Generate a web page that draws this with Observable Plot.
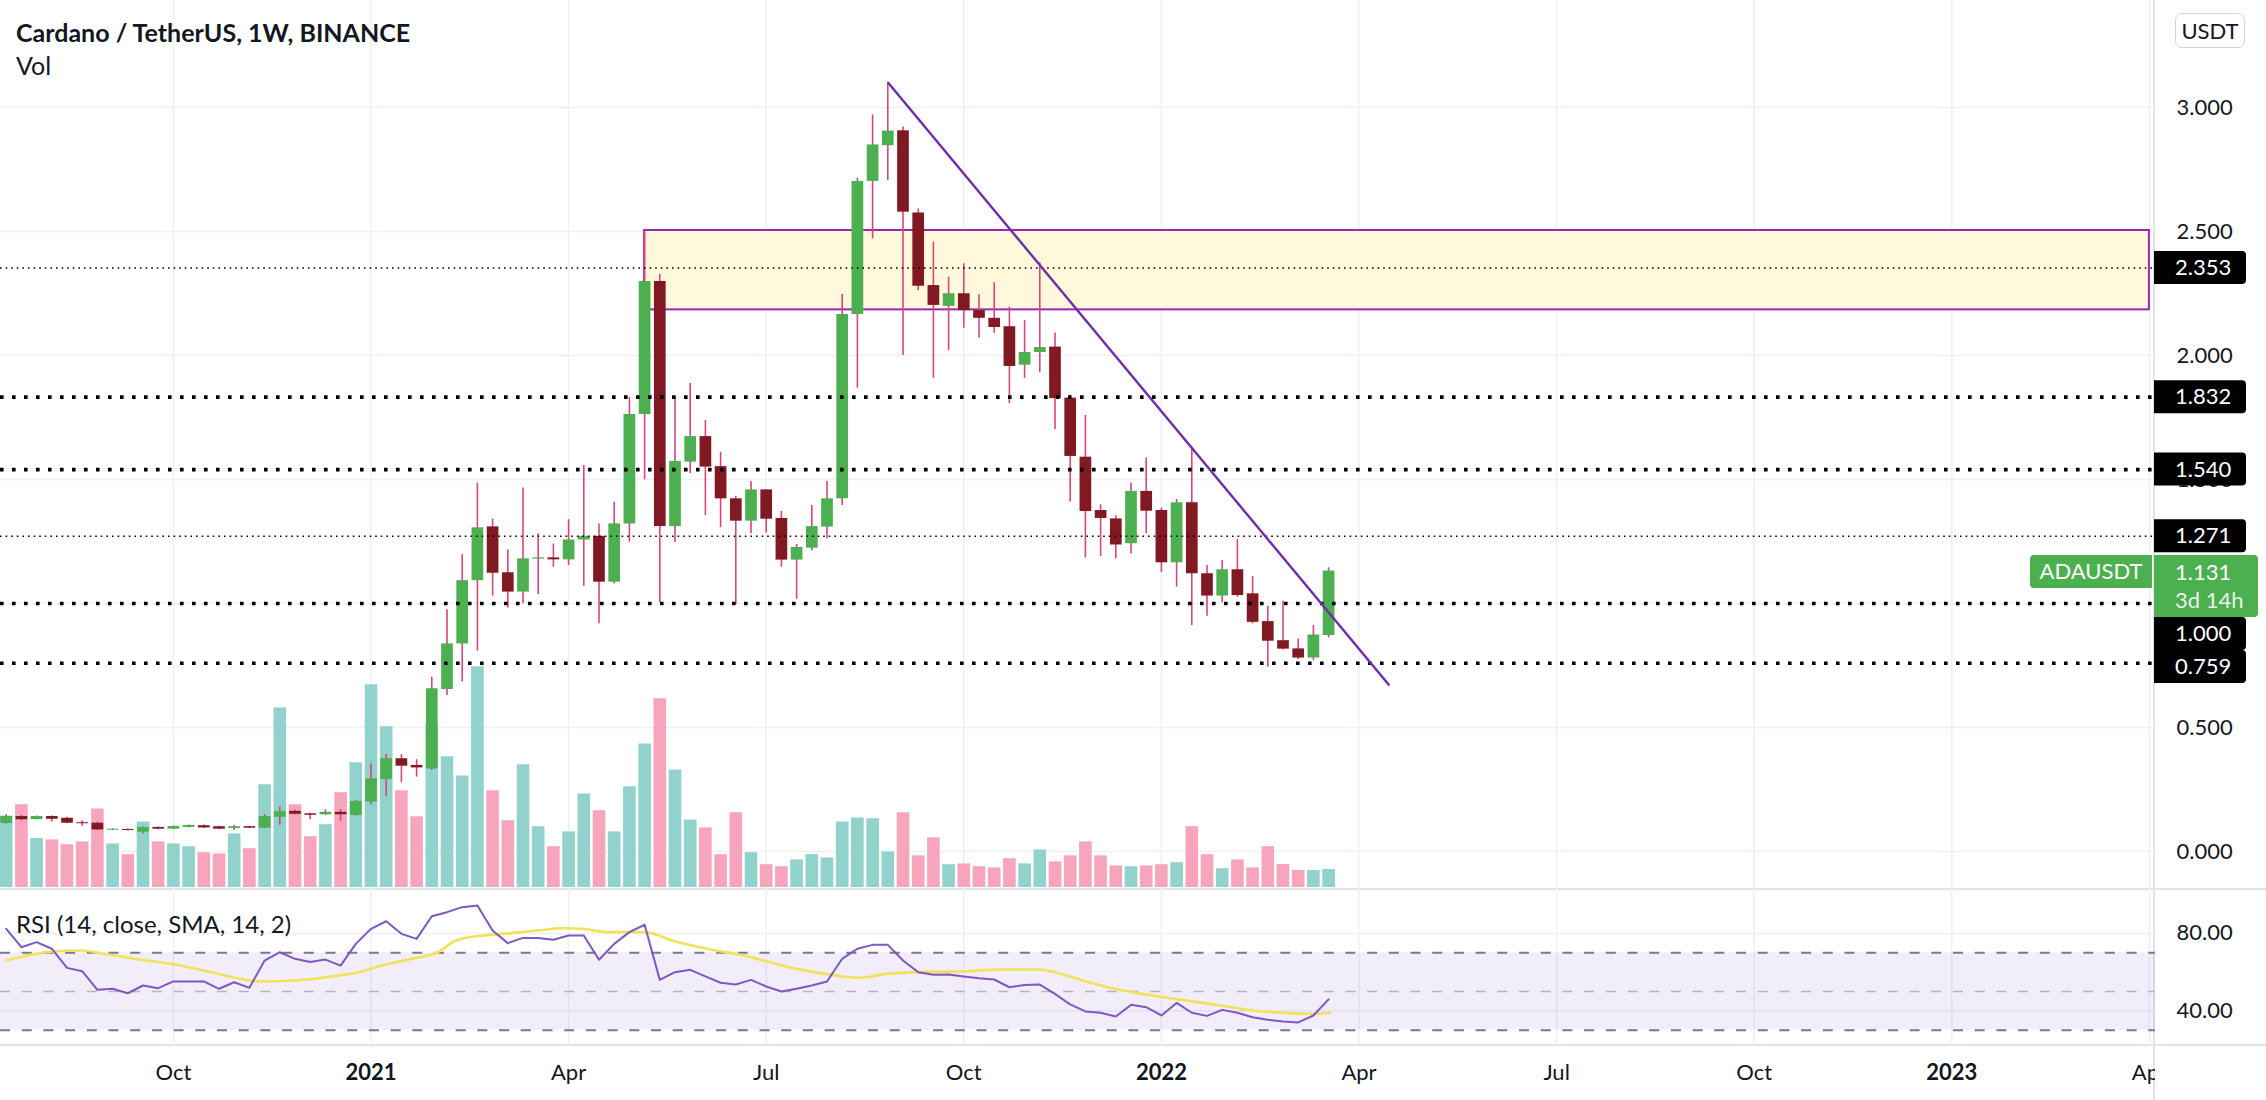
<!DOCTYPE html>
<html><head><meta charset="utf-8">
<script src="https://cdn.jsdelivr.net/npm/d3@7"></script>
<script src="https://cdn.jsdelivr.net/npm/@observablehq/plot@0.6"></script>
<style>
html,body{margin:0;padding:0;background:#fff;}
#chart{position:relative;width:2266px;height:1100px;overflow:hidden;font-family:Lato,sans-serif;color:#131722;background:#fff;}
.layer{position:absolute;left:0;width:2266px;}
.layer svg{display:block;max-width:none;}
.sep{position:absolute;background:#e0e3eb;}
.txt{position:absolute;white-space:nowrap;line-height:1;}
</style></head>
<body><div id="chart"></div>
<script>
// ---------- DATA ----------
const startWeek = "2020-07-20"; // first weekly bar (Binance weeks open on Monday)
const opens = [0.113,0.141,0.129,0.141,0.134,0.116,0.114,0.086,0.089,0.078,
0.097,0.090,0.097,0.104,0.100,0.093,0.100,0.094,0.138,0.162,
0.152,0.148,0.158,0.145,0.199,0.290,0.374,0.347,0.333,0.653,
0.837,1.092,1.309,1.124,1.046,1.179,1.184,1.176,1.256,1.271,
1.086,1.321,1.762,2.298,1.310,1.570,1.673,1.552,1.422,1.332,
1.458,1.343,1.175,1.223,1.308,1.422,2.165,2.702,2.846,2.906,
2.575,2.282,2.198,2.249,2.181,2.150,2.116,1.961,2.012,2.034,
1.828,1.590,1.375,1.341,1.241,1.452,1.375,1.164,1.406,1.120,
1.030,1.136,1.039,0.927,0.850,0.817,0.780,0.871];
const highs = [0.148,0.145,0.143,0.143,0.138,0.124,0.118,0.092,0.091,0.099,
0.099,0.103,0.107,0.107,0.102,0.106,0.102,0.149,0.179,0.166,
0.154,0.168,0.169,0.206,0.353,0.391,0.391,0.370,0.703,0.975,
1.197,1.485,1.341,1.216,1.466,1.281,1.240,1.338,1.556,1.321,
1.408,1.831,2.500,2.327,1.832,1.887,1.738,1.610,1.432,1.492,
1.460,1.371,1.238,1.395,1.492,2.246,2.715,2.970,3.102,2.921,
2.591,2.457,2.316,2.370,2.245,2.293,2.195,2.141,2.373,2.091,
1.840,1.758,1.398,1.354,1.486,1.587,1.385,1.419,1.630,1.153,
1.173,1.258,1.109,0.989,1.009,0.857,0.911,1.144];
const lows = [0.110,0.124,0.127,0.119,0.112,0.102,0.084,0.084,0.083,0.071,
0.088,0.088,0.095,0.093,0.088,0.085,0.092,0.092,0.106,0.148,
0.128,0.146,0.122,0.143,0.188,0.221,0.277,0.300,0.327,0.629,
0.683,0.808,1.030,0.982,0.999,1.036,1.146,1.153,1.070,0.918,
1.080,1.247,1.499,1.004,1.246,1.524,1.355,1.306,0.996,1.281,
1.284,1.146,1.017,1.213,1.260,1.395,1.868,2.470,2.706,2.000,
2.262,1.908,2.020,2.110,2.070,2.090,1.805,1.908,1.930,1.702,
1.409,1.183,1.190,1.180,1.200,1.281,1.124,1.066,0.911,0.949,
1.003,1.025,0.918,0.743,0.813,0.774,0.770,0.861];
const closes = [0.141,0.128,0.141,0.130,0.114,0.112,0.087,0.090,0.085,0.097,
0.090,0.101,0.105,0.095,0.090,0.100,0.094,0.141,0.161,0.150,
0.146,0.158,0.148,0.202,0.293,0.374,0.344,0.337,0.656,0.837,
1.092,1.305,1.122,1.046,1.180,1.184,1.176,1.256,1.271,1.086,
1.321,1.762,2.298,1.310,1.573,1.673,1.550,1.422,1.332,1.458,
1.340,1.175,1.226,1.310,1.422,2.165,2.702,2.849,2.905,2.578,
2.279,2.202,2.249,2.181,2.150,2.113,1.956,2.012,2.032,1.826,
1.593,1.371,1.343,1.236,1.452,1.372,1.164,1.406,1.120,1.030,
1.136,1.032,0.924,0.848,0.816,0.780,0.873,1.131];
const volumes = [1790,2070,1225,1190,1070,1140,1960,1090,820,1640,
1140,1090,1020,870,840,1340,970,2570,4490,2070,
1270,1570,2370,3120,5070,4020,2420,1770,4085,3270,
2790,5520,2420,1670,3070,1520,1020,1390,2340,1920,
1390,2520,3590,4720,2940,1690,1490,820,1870,870,
570,520,690,820,740,1640,1740,1720,890,1870,
790,1240,570,590,520,490,720,590,940,640,
790,1140,790,540,520,540,570,620,1520,820,
470,690,490,1020,575,425,425,450];
const rsiValues = [82.4,72.9,75.5,72.1,62.2,60.5,50.9,51.4,49.1,53.1,
51.7,55.2,55.2,55.2,51.4,54.8,51.9,66.0,70.3,66.9,
65.2,66.5,63.4,74.6,82.4,86.3,79.8,77.2,88.9,91.0,
93.6,94.4,81.5,75.0,77.7,77.6,76.7,78.9,78.9,66.4,
74.6,80.7,84.5,56.0,60.0,61.2,57.8,54.5,53.6,56.0,
52.6,50.0,51.4,53.1,55.2,66.9,72.1,74.1,74.1,66.0,
60.0,58.6,58.8,57.8,56.9,56.2,52.2,53.4,53.6,48.8,
43.3,39.7,39.0,37.1,43.1,41.9,37.6,44.1,39.0,37.4,
40.5,39.0,36.7,35.4,34.5,34.0,37.6,45.9];
// RSI-based SMA, read at bar positions (bar index, value)
const smaBarIndex = [0,1.4,3.2,4.9,6.7,8.4,10.8,13.2,14.9,16.7,19.0,21.4,23.2,24.9,26.7,28.4,29.6,31.4,33.2,34.9,36.7,37.9,39.6,42.0,43.8,46.1,48.5,50.2,52.0,54.3,56.1,57.9,60.2,63.2,65.5,67.9,69.0,70.8,72.6,74.3,76.1,78.4,80.2,82.0,84.3,86.1,87.1];
const smaValues = [66.0,68.6,70.8,71.2,69.1,66.9,64.3,60.5,57.4,55.2,55.7,57.8,60.0,63.8,66.9,70.3,76.4,78.9,80.1,81.5,82.7,82.4,80.7,80.7,76.4,72.1,68.6,65.2,61.7,58.6,57.1,59.1,60.0,60.5,61.4,61.4,60.0,55.7,51.9,49.3,47.1,44.5,42.4,40.2,38.8,38.5,39.0];

const xTickDates = ["2020-10-05","2021-01-04","2021-04-05","2021-07-05","2021-10-04","2022-01-03","2022-04-04","2022-07-04","2022-10-03","2023-01-02","2023-04-03"];
const xTickLabels = ["Oct","2021","Apr","Jul","Oct","2022","Apr","Jul","Oct","2023","Apr"];
const xTickIsYear = [false,true,false,false,false,true,false,false,false,true,false];
const priceTicks = [0,0.5,1,1.5,2,2.5,3];
const rsiTicks = [40,80];
const rsiBands = [30,50,70];
const levelsThick = [1.832,1.540,1.000,0.759];
const levelsThin = [2.353,1.271];
const levelLabels = [2.353,1.832,1.540,1.271,1.000,0.759];
const zoneStart = "2021-05-10", zoneEnd = "2023-04-03", zoneLow = 2.184, zoneHigh = 2.504;
const trendStart = "2021-08-30", trendStartPrice = 3.102, trendEnd = "2022-04-18", trendEndPrice = 0.669;
const symbol = "ADAUSDT", lastPrice = 1.131, countdown = "3d 14h";
const titleText = "Cardano / TetherUS, 1W, BINANCE";
const rsiTitle = "RSI (14, close, SMA, 14, 2)";

// ---------- SETUP ----------
const parse = d3.utcParse("%Y-%m-%d");
const t0 = parse(startWeek);
const WEEK = 7 * 864e5;
const bars = opens.map((o, i) => ({
  date: new Date(t0.getTime() + i * WEEK),
  open: o, high: highs[i], low: lows[i], close: closes[i],
  volume: volumes[i], rsi: rsiValues[i], up: closes[i] >= o
}));
const sma = smaBarIndex.map((b, i) => ({date: new Date(t0.getTime() + b * WEEK), value: smaValues[i]}));
const ticks = xTickDates.map((d, i) => ({date: parse(d), label: xTickLabels[i], year: xTickIsYear[i]}));

const W = 2266, AXW = 111;
const chart = document.getElementById("chart");
const X = () => ({type: "utc", domain: [parse(xTickDates[0]), parse(xTickDates[xTickDates.length - 1])], range: [172.9, 2148.9], axis: null});
const PY = () => ({domain: [0, 3], range: [851, 107], axis: null});
const base = {width: W, marginLeft: 0, marginTop: 0, marginBottom: 0, marginRight: AXW,
  style: {background: "transparent", fontFamily: "Lato, sans-serif", fontSize: "22px", color: "#131722", maxWidth: "none"}};
const GRID = "#eef0f5";
const TXT = "#131722";

function addLayer(top, el, z) {
  const d = document.createElement("div");
  d.className = "layer"; d.style.top = top + "px"; d.style.zIndex = z;
  d.appendChild(el); chart.appendChild(d);
}
function sep(l, t, w, h) {
  const d = document.createElement("div");
  d.className = "sep"; Object.assign(d.style, {left: l + "px", top: t + "px", width: w + "px", height: h + "px", zIndex: 0});
  chart.appendChild(d);
}
function txt(s, l, t, size, weight, extra) {
  const d = document.createElement("div");
  d.className = "txt"; d.textContent = s;
  Object.assign(d.style, {left: l + "px", top: t + "px", fontSize: size + "px", fontWeight: weight, zIndex: 10}, extra || {});
  chart.appendChild(d);
}
function roundPath(x, y, w, h, r, left, right) {
  const rl = left ? r : 0, rr = right ? r : 0;
  return `M${x + rl},${y}H${x + w - rr}` + (rr ? `A${rr},${rr} 0 0 1 ${x + w},${y + rr}` : "") +
    `V${y + h - rr}` + (rr ? `A${rr},${rr} 0 0 1 ${x + w - rr},${y + h}` : "") +
    `H${x + rl}` + (rl ? `A${rl},${rl} 0 0 1 ${x},${y + h - rl}` : "") +
    `V${y + rl}` + (rl ? `A${rl},${rl} 0 0 1 ${x + rl},${y}` : "") + "Z";
}

// separators
sep(0, 888, W, 2);
sep(0, 1044, W, 2);
sep(2153, 0, 2, 1100);

// ---------- GRID LAYER (price pane) ----------
addLayer(0, Plot.plot({...base, height: 889, x: X(), y: PY(), marks: [
  Plot.ruleX(ticks, {x: "date", stroke: GRID, strokeWidth: 1.5}),
  Plot.ruleY(priceTicks, {stroke: GRID, strokeWidth: 1.5})
]}), 1);

// ---------- VOLUME LAYER ----------
addLayer(0, Plot.plot({...base, height: 889, x: X(), y: {domain: [0, 22000], range: [887, 7], axis: null}, marks: [
  Plot.ruleX(bars, {x: "date", y1: 0, y2: "volume", stroke: d => d.up ? "#92d2cc" : "#f6a5bd", strokeWidth: 12.6})
]}), 2);

// ---------- PRICE LAYER ----------
const pricePlot = Plot.plot({...base, height: 889, x: X(), y: PY(), marks: [
  Plot.rect([{}], {x1: () => parse(zoneStart), x2: () => parse(zoneEnd), y1: () => zoneLow, y2: () => zoneHigh,
    fill: "#fff8da", stroke: "#9c27b0", strokeWidth: 2}),
  Plot.ruleX(bars, {x: "date", y1: "low", y2: "high", stroke: "#d9457c", strokeWidth: 1.6}),
  Plot.ruleX(bars, {x: "date", y1: "open", y2: "close", stroke: d => d.up ? "#4caf50" : "#801922", strokeWidth: 11.7}),
  Plot.ruleY(levelsThin, {stroke: "#000", strokeWidth: 1.6, strokeDasharray: "1.6 4"}),
  Plot.ruleY(levelsThick, {stroke: "#000", strokeWidth: 3.6, strokeDasharray: "3.6 8.4"}),
  Plot.link([{}], {x1: () => parse(trendStart), y1: () => trendStartPrice, x2: () => parse(trendEnd), y2: () => trendEndPrice,
    stroke: "#6f2da8", strokeWidth: 2.4}),
  Plot.text(priceTicks, {y: d => d, text: d => d.toFixed(3), frameAnchor: "right", dx: 21, textAnchor: "start", fontSize: 22, fill: TXT})
]});
addLayer(0, pricePlot, 3);

// price labels on the axis (TradingView-style boxes), pushed down when they collide
(function () {
  const ys = pricePlot.scale("y");
  const yOf = ys.apply ? v => ys.apply(v) : d3.scaleLinear(ys.domain, ys.range);
  const g = d3.select(pricePlot).append("g")
    .attr("font-family", "Lato, sans-serif").attr("font-size", 22).attr("text-anchor", "start");
  const BH = 33, AX = 2154;
  const lastY = yOf(lastPrice);
  const greenTop = lastY - 15.5, greenH = 62;
  const boxes = levelLabels.map(v => ({v, cy: yOf(v)})).sort((a, b) => a.cy - b.cy);
  let prevBottom = -Infinity;
  const occupied = [[greenTop, greenTop + greenH]];
  boxes.forEach(b => {
    let top = Math.max(b.cy - BH / 2, prevBottom);
    occupied.forEach(([t, bt]) => { if (top < bt && top + BH > t) top = bt; });
    b.cy = top + BH / 2; prevBottom = top + BH;
    g.append("path").attr("d", roundPath(AX, top, 92, BH, 4, false, true)).attr("fill", "#000");
    g.append("text").attr("x", AX + 21).attr("y", b.cy).attr("dy", "0.35em").attr("fill", "#fff").text(b.v.toFixed(3));
  });
  // last price
  g.append("path").attr("d", roundPath(AX, greenTop, 104, greenH, 4, false, true)).attr("fill", "#4caf50");
  g.append("text").attr("x", AX + 21).attr("y", lastY + 1.5).attr("dy", "0.35em").attr("fill", "#fff").text(lastPrice.toFixed(3));
  g.append("text").attr("x", AX + 21).attr("y", lastY + 29.5).attr("dy", "0.35em").attr("fill", "#e6f4e7").text(countdown);
  g.append("path").attr("d", roundPath(2030, lastY - 15.5, 122, 33, 4, true, false)).attr("fill", "#4caf50");
  g.append("text").attr("x", 2091).attr("y", lastY + 1).attr("dy", "0.35em").attr("text-anchor", "middle").attr("fill", "#fff").text(symbol);
})();

// ---------- RSI LAYER ----------
addLayer(889, Plot.plot({...base, height: 156, x: X(), y: {domain: [30, 70], range: [140.7, 63.3], axis: null}, marks: [
  Plot.ruleX(ticks, {x: "date", stroke: GRID, strokeWidth: 1.5}),
  Plot.ruleY(rsiTicks, {stroke: GRID, strokeWidth: 1.5}),
  Plot.rect([{}], {y1: () => rsiBands[0], y2: () => rsiBands[2], fill: "#7e57c2", fillOpacity: 0.1}),
  Plot.ruleY([rsiBands[0], rsiBands[2]], {stroke: "#787b86", strokeWidth: 2, strokeDasharray: "10 11.7"}),
  Plot.ruleY([rsiBands[1]], {stroke: "#b2b5be", strokeWidth: 1.6, strokeDasharray: "10 11.7"}),
  Plot.line(sma, {x: "date", y: "value", stroke: "#f1e25a", strokeWidth: 2.6, curve: "monotone-x"}),
  Plot.line(bars, {x: "date", y: "rsi", stroke: "#7e57c2", strokeWidth: 2}),
  Plot.text(rsiTicks, {y: d => d, text: d => d.toFixed(2), frameAnchor: "right", dx: 21, textAnchor: "start", fontSize: 22, fill: TXT})
]}), 3);

// ---------- X AXIS ----------
addLayer(1045, Plot.plot({...base, height: 55, x: X(), y: {domain: [0, 1], axis: null}, marks: [
  Plot.text(ticks.filter(d => !d.year), {x: "date", text: "label", frameAnchor: "middle", fontSize: 22, fill: TXT, clip: true}),
  Plot.text(ticks.filter(d => d.year), {x: "date", text: "label", frameAnchor: "middle", fontSize: 22, fontWeight: "bold", fill: TXT, clip: true})
]}), 3);

// ---------- TEXTS ----------
txt(titleText, 16, 19.5, 25, 700);
txt("Vol", 16, 53, 25, 400);
txt(rsiTitle, 16, 912, 24, 400);
const usdt = document.createElement("div");
usdt.textContent = "USDT";
Object.assign(usdt.style, {position: "absolute", left: "2175px", top: "13px", width: "68px", height: "33px", border: "1.5px solid #d1d4dc",
  borderRadius: "7px", fontSize: "22px", lineHeight: "33px", textAlign: "center", zIndex: 10, color: TXT});
chart.appendChild(usdt);
</script>
</body></html>
